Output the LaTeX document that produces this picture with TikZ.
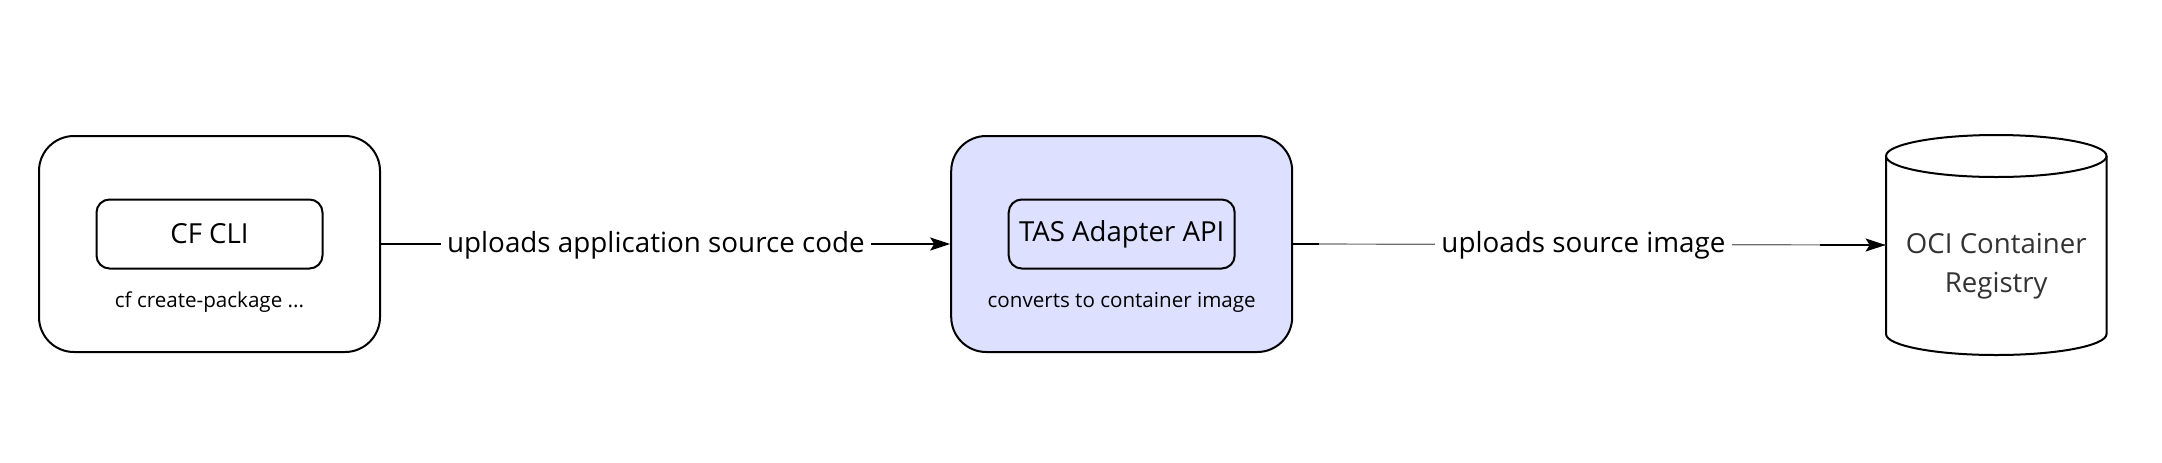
\documentclass[tikz,border=0pt]{standalone}
\usepackage{fontspec}
\setmainfont{Open Sans}
\usetikzlibrary{arrows.meta,calc}
\definecolor{tasfill}{HTML}{DDE0FF}
\definecolor{linegray}{HTML}{6E6E6E}
\definecolor{textgray}{HTML}{333333}
\tikzset{
  outerbox/.style={draw=black,line width=1pt,rounded corners=17.5pt,minimum width=170.5pt,minimum height=108pt},
  innerbox/.style={draw=black,line width=1pt,rounded corners=6.5pt,minimum width=113pt,minimum height=34.5pt,font=\fontsize{13.8}{16}\selectfont},
  smalltxt/.style={font=\fontsize{10.3}{12}\selectfont,inner sep=0pt},
  lbl/.style={fill=white,font=\fontsize{13.9}{16}\selectfont,inner sep=3pt},
  tip/.style={-{Stealth[length=10pt,width=6.5pt,inset=2pt]}}
}
\begin{document}
\begin{tikzpicture}[x=0.5pt,y=-0.5pt]
\fill[white] (0,0) rectangle (2162,462);
\useasboundingbox (0,0) rectangle (2162,462);
% left group
\node[outerbox] (cfgroup) at (209.5,244) {};
\node[innerbox] (cfcli) at (209.5,234) {CF CLI};
\node[smalltxt] (cfcmd) at (209.5,302) {cf create-package ...};
% middle group
\node[outerbox,fill=tasfill] (tasgroup) at (1121.7,244) {};
\node[innerbox] (tasapi) at (1121.7,234) {TAS Adapter API};
\node[smalltxt] (tasconv) at (1121.7,302) {converts to container image};
% cylinder
\node[minimum width=110.25pt,minimum height=110pt,inner sep=0pt] (oci) at (1996.25,245) {};
\draw[line width=1pt,fill=white] (1886,156) -- (1886,334)
   arc[start angle=180,end angle=360,x radius=55.125pt,y radius=10.5pt] -- (2106.5,156);
\draw[line width=1pt,fill=white] (1996.25,156) ellipse[x radius=55.125pt,y radius=10.5pt];
\node[align=center,text=textgray,font=\fontsize{13.8}{19.5}\selectfont] (ocitext) at (1996.25,266) {OCI Container\\Registry};
% arrows
\draw[line width=1pt,tip] (cfgroup.east) -- node[lbl,pos=0.483,yshift=-0.5pt] (lbl1) {uploads application source code} (tasgroup.west);
\coordinate (a2s) at ($(tasgroup.east)+(26,0)$);
\coordinate (a2e) at ($(oci.west)+(-66,0)$);
\draw[line width=0.6pt,linegray] (tasgroup.east) -- node[lbl,text=black,pos=0.49,yshift=-0.5pt] (lbl2) {uploads source image} (oci.west);
\draw[line width=1pt] (tasgroup.east) -- (a2s);
\draw[line width=0.8pt,tip] (a2e) -- (oci.west);
\end{tikzpicture}
\end{document}
